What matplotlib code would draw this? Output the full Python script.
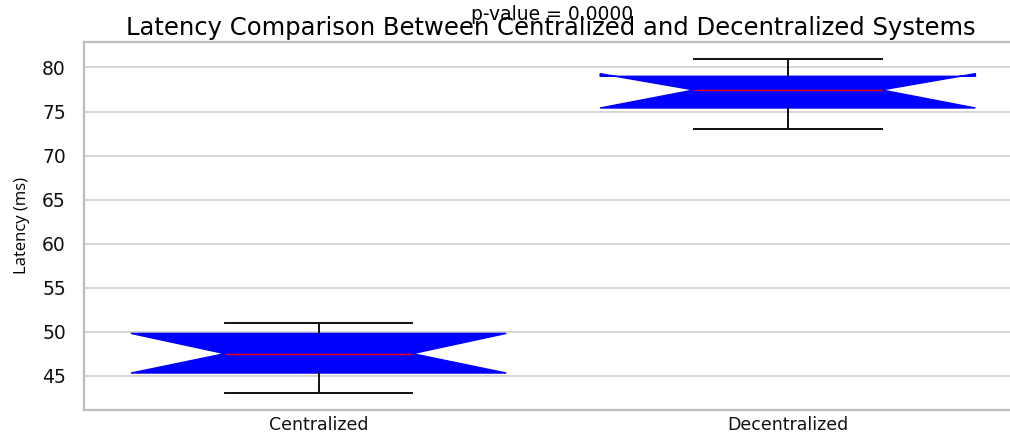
import matplotlib
matplotlib.use("Agg")
import matplotlib.pyplot as plt

# summary statistics per system (ms)
systems = ["Centralized", "Decentralized"]
medians = [47.5, 77.45]
q1 = [45.3, 75.4]
q3 = [49.8, 79.0]
notch_lo = [45.3, 75.4]
notch_hi = [49.8, 79.3]
whisker_lo = [43.0, 73.0]
whisker_hi = [51.0, 81.0]
p_value = 0.0

stats = [
    dict(label=systems[i], med=medians[i], q1=q1[i], q3=q3[i],
         cilo=notch_lo[i], cihi=notch_hi[i],
         whislo=whisker_lo[i], whishi=whisker_hi[i], fliers=[])
    for i in range(len(systems))
]

GRID = "#cfcfcf"
SPINE = "#bdbdbd"

fig = plt.figure(figsize=(10.10, 4.32), dpi=100)
ax = fig.add_axes([0.0832, 0.0509, 0.929, 0.852])

ax.bxp(stats, shownotches=True, patch_artist=True, widths=0.8,
       boxprops=dict(facecolor="#0000ff", edgecolor="#0000ff", linewidth=1.0),
       medianprops=dict(color="#ff0000", linewidth=1.0),
       whiskerprops=dict(color="#111111", linewidth=1.4),
       capprops=dict(color="#111111", linewidth=1.4),
       showfliers=False)

ax.set_xlim(0.5, 2.5)
ax.set_axisbelow(True)
ax.yaxis.grid(True, color=GRID, linewidth=1.2)
ax.xaxis.grid(False)
for side in ["left", "top", "bottom"]:
    ax.spines[side].set_color(SPINE)
    ax.spines[side].set_linewidth(1.6)
ax.spines["right"].set_visible(False)
ax.tick_params(axis="both", length=0, colors="#111111")
ax.tick_params(axis="y", pad=13, labelsize=13.5)
ax.tick_params(axis="x", pad=4, labelsize=12.5)

ax.set_ylabel("Latency (ms)", fontsize=12, family="Open Sans", labelpad=9)

fig.text(0.545, 1 - 35 / 432, "Latency Comparison Between Centralized and Decentralized Systems",
         ha="center", va="baseline", fontsize=17.5)
fig.text(0.547, 1 - 20 / 432, f"p-value = {p_value:.4f}",
         ha="center", va="baseline", fontsize=13.5)

fig.savefig("out.png", dpi=100)
